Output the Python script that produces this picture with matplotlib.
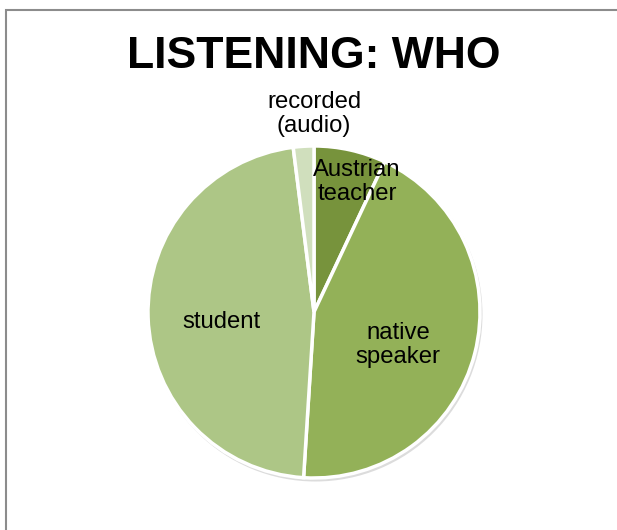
import matplotlib.pyplot as plt
from matplotlib.patches import Rectangle, Circle

# slice data (clockwise from 12 o'clock)
labels = ['Austrian\nteacher', 'native\nspeaker', 'student', 'recorded\n(audio)']
shares = [7, 44, 47, 2]
colors = ['#77933c', '#93b158', '#adc686', '#d0dfbd']
explode = [0.025, 0.0, 0.0, 0.02]

plt.rcParams['font.family'] = ['Liberation Sans', 'DejaVu Sans']

W, H = 617, 530
fig = plt.figure(figsize=(W / 100, H / 100), dpi=100)
ax = fig.add_axes([0, 0, 1, 1])

# outer chart frame (runs off the right and bottom edges)
fig.patches.append(Rectangle((6 / W, -0.1), 1.2, 1.1 - 10 / H, transform=fig.transFigure,
                             fill=False, edgecolor='#8c8c8c', linewidth=1.5))

cx, cy, r = 314, H - 312, 166
# soft drop shadow behind the pie
ax.add_patch(Circle((cx + 1.5, cy - 2.5), r + 1, facecolor='#dcdcdc', edgecolor='none', zorder=0))
wedges, _ = ax.pie(shares, colors=colors, startangle=90, counterclock=False,
                   center=(cx, cy), radius=r, explode=explode, frame=True,
                   wedgeprops=dict(edgecolor='white', linewidth=2.5))
ax.set_xlim(0, W)
ax.set_ylim(0, H)
ax.set_aspect('equal')
ax.axis('off')

# label positions (pixel coords from the top)
label_xy = [(357, 182), (398, 345), (221, 322), (314, 114)]
for lab, (x, y) in zip(labels, label_xy):
    ax.text(x, H - y, lab, ha='center', va='center', fontsize=17.2, linespacing=1.1)

ax.text(314, H - 56, 'LISTENING: WHO', ha='center', va='center',
        fontsize=32, fontweight='bold')

fig.savefig('out.png', dpi=100)
